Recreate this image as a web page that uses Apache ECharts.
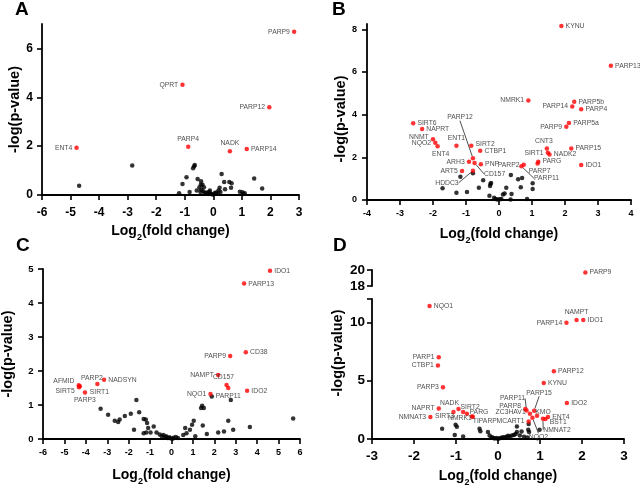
<!DOCTYPE html>
<html><head><meta charset="utf-8">
<script src="https://cdn.jsdelivr.net/npm/echarts@6/dist/echarts.min.js"></script>
<style>html,body{margin:0;padding:0;background:#fff}#c{width:640px;height:487px}</style>
</head><body><div id="c"></div>
<script>
// ---------- DATA ----------
// Panel A
const aXTicks = [-6,-5,-4,-3,-2,-1,0,1,2,3];
const aYTicks = [0,2,4,6];
const aRed = [[2.83,6.68,'PARP9'],[-1.08,4.51,'QPRT'],[1.96,3.59,'PARP12'],[-4.79,1.93,'ENT4'],[-0.88,1.98,'PARP4'],[0.58,1.79,'NADK'],[1.17,1.88,'PARP14']];
const aBlack = [[-4.70,0.38],[-2.84,1.21],[-1.20,0.07],[-1.08,0.45],[-0.94,0.73],[-0.83,0.12],[-0.71,1.10],[-0.67,1.18],[-0.65,1.23],[-0.55,0.65],[-0.43,0.56],[-0.44,0.42],[-0.38,0.42],[-0.49,0.31],[-0.42,0.22],[-0.36,0.15],[-0.45,0.12],[-0.30,0.08],[-0.25,0.10],[-0.20,0.06],[-0.15,0.12],[-0.10,0.05],[-0.05,0.03],[0.0,0.02],[0.05,0.08],[0.10,0.10],[0.15,0.05],[0.18,0.18],[0.22,0.30],[0.29,0.86],[0.38,0.53],[0.41,0.24],[0.56,0.53],[0.64,0.48],[0.62,0.30],[0.93,0.13],[1.02,0.11],[1.10,0.07],[1.05,0.04],[1.43,0.68],[1.71,0.27],[-0.58,0.18],[-0.33,0.32],[-0.12,0.18],[0.25,0.12]];
// Panel B
const bXTicks = [-4,-3,-2,-1,0,1,2,3,4];
const bYTicks = [0,2,4,6,8];
const bRed = [[1.89,8.16,'KYNU'],[3.39,6.29,'PARP13'],[0.89,4.66,'NMRK1'],[2.28,4.61,'PARP5b'],[2.22,4.38,'PARP14'],[2.49,4.25,'PARP4'],[2.12,3.61,'PARP5a'],[2.04,3.43,'PARP9'],[1.45,2.41,'CNT3'],[2.19,2.41,'PARP15'],[1.48,2.21,'SIRT1'],[1.53,2.13,'NADK2'],[2.49,1.64,'IDO1'],[1.19,1.79,'PARG'],[1.17,1.71,'PARP7'],[0.75,1.65,'PARP2'],[0.68,1.58,'PARP11'],[-2.60,3.60,'SIRT6'],[-2.33,3.33,'NAPRT'],[-2.0,2.85,'NNMT'],[-1.93,2.68,'NQO2'],[-1.86,2.52,'ENT4'],[-1.29,2.54,'ENT1'],[-0.84,2.54,'SIRT2'],[-0.57,2.31,'CTBP1'],[-0.79,1.96,'PARP12'],[-0.91,1.79,'ARH3'],[-0.74,1.74,'CD157'],[-0.55,1.68,'PNP'],[-1.12,1.36,'ART5'],[-0.79,1.37,'HDDC3']];
const bBlack = [[-1.71,0.55],[-1.29,0.34],[-1.17,1.09],[-0.97,0.37],[-0.79,1.25],[-0.61,0.58],[-0.48,0.92],[-0.29,0.20],[-0.27,0.66],[-0.26,0.75],[-0.24,0.80],[-0.15,0.10],[-0.10,0.05],[-0.05,0.02],[0.02,0.03],[0.07,0.05],[0.12,0.26],[0.17,0.30],[0.22,0.58],[0.36,1.17],[0.38,0.28],[0.35,0.02],[0.58,0.97],[0.66,0.60],[0.70,1.03],[0.85,0.05],[1.02,0.79],[1.02,0.52]];
// Panel C
const cXTicks = [-6,-5,-4,-3,-2,-1,0,1,2,3,4,5,6];
const cYTicks = [0,1,2,3,4,5];
const cRed = [[4.60,4.95,'IDO1'],[3.39,4.57,'PARP13'],[3.47,2.55,'CD38'],[2.74,2.44,'PARP9'],[2.18,1.88,'NAMPT'],[2.57,1.59,'CD157'],[2.65,1.50,'PARP11'],[3.53,1.42,'IDO2'],[1.82,1.32,'NQO1'],[-4.33,1.58,'AFMID'],[-4.32,1.52,'SIRT5'],[-4.28,1.55,'PARP2'],[-3.46,1.62,'SIRT1'],[-3.15,1.74,'NADSYN'],[-4.04,1.37,'PARP3']];
const cBlack = [[-3.31,0.89],[-2.96,0.71],[-2.65,0.54],[-2.49,0.50],[-2.42,0.57],[-2.18,0.68],[-1.90,0.74],[-1.75,0.27],[-1.64,1.15],[-1.51,0.79],[-1.30,0.59],[-1.20,0.57],[-1.14,0.47],[-1.09,0.32],[-1.30,0.17],[-1.18,0.19],[-0.98,0.19],[-0.83,0.37],[-0.70,0.19],[-0.55,0.13],[-0.45,0.08],[-0.38,0.12],[-0.30,0.05],[-0.25,0.08],[-0.18,0.03],[-0.10,0.05],[-0.05,0.02],[0.05,0.01],[0.10,0.04],[0.20,0.06],[0.30,0.03],[0.55,0.12],[0.64,0.32],[0.70,0.17],[0.86,0.27],[0.96,0.42],[1.04,0.54],[1.11,0.08],[1.38,0.91],[1.43,0.98],[1.51,0.91],[1.46,0.40],[1.65,0.15],[1.88,1.25],[2.18,0.19],[2.45,0.22],[2.65,0.54],[2.77,1.15],[2.88,0.27],[3.66,0.35],[5.68,0.60]];
// Panel D
const dXTicks = [-3,-2,-1,0,1,2,3];
const dYTicksLow = [0,5,10,12];
const dYLabelsLow = [0,5,10];
const dYTicksHigh = [18,20];
const dRedHigh = [[2.08,19.7,'PARP9']];
const dRed = [[-1.63,11.4,'NQO1'],[1.87,10.2,'NAMPT'],[2.03,10.2,'IDO1'],[1.63,9.97,'PARP14'],[-1.41,7.0,'PARP1'],[-1.43,6.3,'CTBP1'],[1.33,5.8,'PARP12'],[-1.31,4.44,'PARP3'],[1.09,4.79,'KYNU'],[1.64,3.08,'IDO2'],[-1.41,2.62,'NAPRT'],[-1.61,1.88,'NMNAT3'],[-0.94,2.57,'NADK'],[-1.06,2.31,'SIRT3'],[-0.83,2.31,'SIRT2'],[-0.74,2.16,'NMRK1'],[-0.62,1.93,'PARG'],[-0.60,1.90,'TIPARP'],[0.68,2.45,'PARP11'],[0.65,2.57,'PARP8'],[0.86,2.42,'PARP15'],[0.76,2.16,'ZC3HAV1'],[0.93,1.99,'KMO'],[0.82,1.82,'NQO2'],[0.73,1.51,'MCART1'],[1.07,1.74,'NMNAT2'],[1.13,1.71,'BST1'],[1.19,1.88,'ENT4']];
const dBlack = [[-1.33,0.88],[-1.01,1.22],[-0.98,1.05],[-1.03,0.35],[-0.83,0.22],[-0.44,0.88],[-0.42,0.66],[-0.24,0.60],[-0.20,0.31],[-0.15,0.15],[-0.12,0.10],[-0.08,0.05],[-0.04,0.08],[0.0,0.02],[0.04,0.06],[0.08,0.10],[0.12,0.15],[0.16,0.12],[0.20,0.20],[0.24,0.28],[0.28,0.22],[0.33,0.30],[0.38,0.35],[0.42,0.43],[0.45,0.60],[0.45,1.08],[0.52,0.31],[0.56,0.65],[0.72,0.80],[0.74,0.60],[0.73,1.28],[0.99,0.80],[0.62,0.20],[0.70,0.12]];

// ---------- LABEL PLACEMENT (layout only) ----------
// [position, dx, dy, leaderLine]
const aLab = {PARP9:['left'],QPRT:['left'],PARP12:['left'],ENT4:['left'],PARP4:['top'],NADK:['top'],PARP14:['right']};
const bLab = {KYNU:['right'],PARP13:['right'],NMRK1:['left'],PARP5b:['right'],PARP14:['left'],PARP4:['right'],PARP5a:['right'],PARP9:['left'],
  CNT3:['top',-3,0],PARP15:['right'],SIRT1:['left'],NADK2:['right'],IDO1:['right'],PARG:['right',0,-1],PARP7:['bottom',2,0],PARP2:['left'],
  PARP11:['inside',25,12,true],SIRT6:['right'],NAPRT:['right'],NNMT:['left',0,-2],NQO2:['left'],ENT4:['bottom',3,0],ENT1:['top'],SIRT2:['right',0,-2],
  CTBP1:['right'],PARP12:['inside',-13,-41,true],ARH3:['left'],CD157:['inside',20,11,true],PNP:['right'],ART5:['left'],HDDC3:['inside',-26,12,true]};
const cLab = {IDO1:['right'],PARP13:['right'],CD38:['right'],PARP9:['left'],NAMPT:['left'],CD157:['top',-3,0],PARP11:['bottom'],IDO2:['right'],NQO1:['left'],
  AFMID:['left',0,-4],SIRT5:['left',0,4],PARP2:['inside',12,-8],SIRT1:['bottom',2,0],NADSYN:['right'],PARP3:['bottom']};
const dLab = {PARP9:['right'],NQO1:['right'],NAMPT:['top'],IDO1:['right'],PARP14:['left'],PARP1:['left'],CTBP1:['left'],PARP12:['right'],PARP3:['left'],KYNU:['right'],IDO2:['right'],
  NAPRT:['left'],NMNAT3:['left'],NADK:['top',-9,2],SIRT3:['inside',-9,4],SIRT2:['inside',7,-5],NMRK1:['inside',-7,4.5],PARG:['inside',7,-4],TIPARP:['inside',12,4.5],
  PARP11:['inside',-14,-12,true],PARP8:['left',0,-3],PARP15:['inside',5,-18,true],ZC3HAV1:['left',0,-2],KMO:['inside',6,-4],NQO2:['inside',6,19,true],
  MCART1:['left'],NMNAT2:['inside',14,11,true],BST1:['right',0,3],ENT4:['right']};

// ---------- BUILD ----------
const FF = 'Liberation Sans';
function xAx(gi, ticks, fs, margin, nameGap, showName) {
  return {type:'value', gridIndex:gi, min:ticks[0], max:ticks[ticks.length-1], interval:1,
    axisLine:{onZero:false, lineStyle:{color:'#000', width:1.8}},
    axisTick:{show:true, length:5, lineStyle:{color:'#000', width:1.6}},
    axisLabel:{fontSize:fs, fontWeight:'bold', color:'#000', fontFamily:FF, margin:margin},
    splitLine:{show:false},
    name: showName ? 'Log{sub|2}(fold change)' : '', nameLocation:'middle', nameGap:nameGap,
    nameTextStyle:{fontSize:14, fontWeight:'bold', color:'#000', fontFamily:FF, lineHeight:22,
      rich:{sub:{fontSize:9, fontWeight:'bold', color:'#000', fontFamily:FF, lineHeight:9, verticalAlign:'bottom'}}}};
}
function yAx(gi, max, ticks, labels, fs, margin, nameGap, name, namePad) {
  return {type:'value', gridIndex:gi, min:ticks[0], max:max,
    axisLine:{onZero:false, lineStyle:{color:'#000', width:1.8}},
    axisTick:{show:true, length:5, customValues:ticks, lineStyle:{color:'#000', width:1.6}},
    axisLabel:{fontSize:fs, fontWeight:'bold', color:'#000', fontFamily:FF, margin:margin, customValues:labels},
    splitLine:{show:false},
    name:name, nameLocation:'middle', nameGap:nameGap, nameRotate:90,
    nameTextStyle:{fontSize:14.5, fontWeight:'bold', color:'#000', fontFamily:FF, padding:namePad||0}};
}
function blackS(data, xi, yi) {
  return {type:'scatter', xAxisIndex:xi, yAxisIndex:yi, data:data, symbolSize:4.5, itemStyle:{color:'#000'}, silent:true, z:2};
}
function redS(data, labs, xi, yi) {
  const items = data.map(d => {
    const c = labs[d[2]] || ['right'];
    return {value:[d[0], d[1]], name:d[2], label:{position:c[0]}, labelLine:{show:!!c[3]}};
  });
  return {type:'scatter', xAxisIndex:xi, yAxisIndex:yi, data:items, symbolSize:4.5, itemStyle:{color:'#ff0000'}, z:3,
    label:{show:true, formatter:'{b}', fontSize:6.8, color:'#222', fontFamily:FF, distance:2},
    labelLine:{show:false, lineStyle:{color:'#222', width:0.8}},
    labelLayout:function(p){ const c = labs[data[p.dataIndex][2]] || []; return {dx:c[1]||0, dy:c[2]||0}; }};
}
const letter = (t, l, tp) => ({text:t, left:l, top:tp, padding:0, textStyle:{fontSize:19, fontWeight:'bold', color:'#000', fontFamily:FF}});

const option = {
  animation:false,
  backgroundColor:'#fff',
  title:[letter('A',15,0), letter('B',332,0), letter('C',16,236), letter('D',333,236)],
  grid:[
    {left:42, top:24, width:257, height:171, outerBoundsMode:'none'},
    {left:367, top:24, width:264, height:176, outerBoundsMode:'none'},
    {left:43, top:269, width:257, height:170, outerBoundsMode:'none'},
    {left:372, top:299, width:252, height:140, outerBoundsMode:'none'},
    {left:372, top:270, width:252, height:16, outerBoundsMode:'none'}
  ],
  xAxis:[
    xAx(0, aXTicks, 12, 12, 22, true),
    xAx(1, bXTicks, 9, 9.5, 23.5, true),
    xAx(2, cXTicks, 9, 9.5, 25, true),
    xAx(3, dXTicks, 13.5, 10.5, 26.5, true),
    Object.assign(xAx(4, dXTicks, 13, 10, 0, false), {show:false})
  ],
  yAxis:[
    yAx(0, 7, aYTicks, aYTicks, 12, 9, 20, '-log(p-value)'),
    yAx(1, 8.25, bYTicks, bYTicks, 9, 10, 19, '-log(p-value)', [0,14,0,0]),
    yAx(2, 5, cYTicks, cYTicks, 9.5, 9.5, 28, '-log(p-value)'),
    yAx(3, 12, dYTicksLow, dYLabelsLow, 13.5, 7, 27, '-log(p-value)', [0,0,0,32]),
    yAx(4, 20, dYTicksHigh, dYTicksHigh, 13.5, 7, 0, '')
  ],
  series:[
    blackS(aBlack,0,0), redS(aRed,aLab,0,0),
    blackS(bBlack,1,1), redS(bRed,bLab,1,1),
    blackS(cBlack,2,2), redS(cRed,cLab,2,2),
    blackS(dBlack,3,3), redS(dRed,dLab,3,3),
    redS(dRedHigh,dLab,4,4)
  ]
};
const chart = echarts.init(document.getElementById('c'), null, {renderer:'canvas'});
chart.setOption(option);
</script></body></html>
